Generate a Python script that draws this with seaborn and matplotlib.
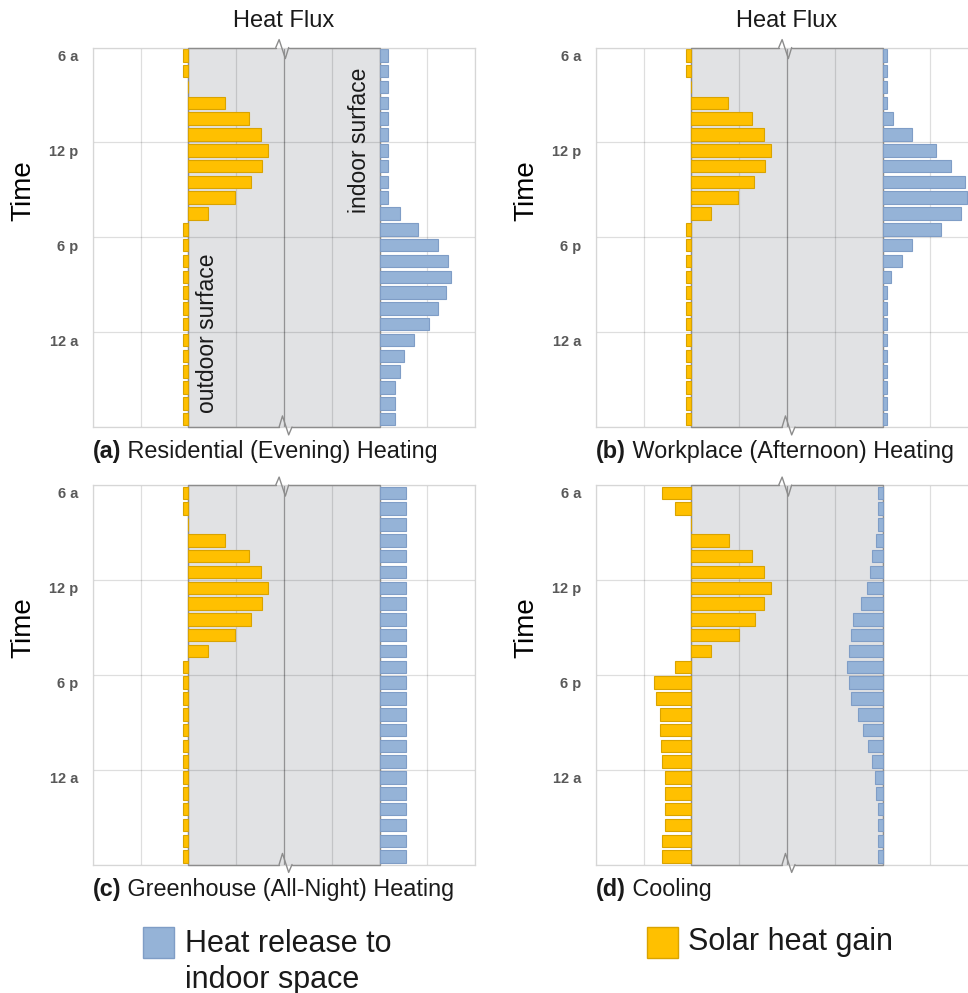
import numpy as np
import pandas as pd
import matplotlib.pyplot as plt
import seaborn as sns
from matplotlib.patches import Rectangle

# hourly slots, first slot = 6 a
hours = list(range(24))
tick_pos = [0, 6, 12, 18]
tick_labels = ["6 a", "12 p", "6 p", "12 a"]

# solar heat gain at the outdoor surface (grid columns, + = into the wall)
solar_heating = [-0.12, -0.12, 0, 0.77, 1.26, 1.52, 1.66, 1.54, 1.32, 0.98, 0.41,
                 -0.12, -0.12, -0.12, -0.12, -0.12, -0.12, -0.12, -0.12, -0.12,
                 -0.12, -0.12, -0.12, -0.12]
solar_cooling = [-0.61, -0.35, 0, 0.78, 1.26, 1.53, 1.66, 1.53, 1.33, 0.99, 0.42,
                 -0.34, -0.79, -0.73, -0.66, -0.66, -0.63, -0.61, -0.56, -0.56,
                 -0.56, -0.56, -0.61, -0.61]

# heat release to indoor space at the indoor surface
release_residential = [0.17, 0.17, 0.17, 0.17, 0.17, 0.17, 0.17, 0.17, 0.17, 0.17,
                       0.42, 0.80, 1.23, 1.44, 1.50, 1.40, 1.23, 1.03, 0.73, 0.52,
                       0.42, 0.33, 0.33, 0.33]
release_workplace = [0.10, 0.10, 0.10, 0.10, 0.21, 0.61, 1.12, 1.43, 1.73, 1.76,
                     1.64, 1.22, 0.61, 0.41, 0.17, 0.10, 0.10, 0.10, 0.10, 0.10,
                     0.10, 0.10, 0.10, 0.10]
release_greenhouse = [0.55, 0.55, 0.55, 0.55, 0.55, 0.55, 0.55, 0.55, 0.55, 0.55,
                      0.55, 0.55, 0.55, 0.55, 0.55, 0.55, 0.55, 0.55, 0.55, 0.55,
                      0.55, 0.55, 0.55, 0.55]
release_cooling = [-0.09, -0.10, -0.10, -0.14, -0.21, -0.27, -0.32, -0.46, -0.61, -0.65,
                   -0.71, -0.74, -0.71, -0.65, -0.51, -0.41, -0.30, -0.21, -0.16, -0.13,
                   -0.10, -0.10, -0.10, -0.10]

panels = [
    ("(a)", "Residential (Evening) Heating", solar_heating, release_residential),
    ("(b)", "Workplace (Afternoon) Heating", solar_heating, release_workplace),
    ("(c)", "Greenhouse (All-Night) Heating", solar_heating, release_greenhouse),
    ("(d)", "Cooling", solar_cooling, release_cooling),
]

ORANGE = "#FFC000"
ORANGE_EDGE = "#D9A300"
BLUE = "#95B3D7"
BLUE_EDGE = "#7F9DC6"
WALL = "#E1E2E4"
WALL_EDGE = "#8C8C8C"

sns.set_theme(style="white")
plt.rcParams['font.family'] = ['Liberation Sans', 'DejaVu Sans']

W, H = 968, 993
fig = plt.figure(figsize=(W / 100, H / 100), dpi=100)

# axes boxes in pixels: left, top
boxes = [(92.7, 47.5), (595.7, 47.5), (92.7, 485), (595.7, 485)]
ax_w, ax_h = 382.4, 379.5

for (tag, caption, solar, release), (px, py) in zip(panels, boxes):
    ax = fig.add_axes([px / W, 1 - (py + ax_h) / H, ax_w / W, ax_h / H])

    # wall (between outdoor surface x=0 and indoor surface x=4)
    ax.axvspan(0, 4, color=WALL, zorder=0.3, lw=0)

    df_s = pd.DataFrame({"hour": hours, "flux": solar})
    df_r = pd.DataFrame({"hour": hours, "flux": release})
    sns.barplot(data=df_s, x="flux", y="hour", orient="y", color=ORANGE,
                edgecolor=ORANGE_EDGE, linewidth=0.8, width=0.79,
                errorbar=None, saturation=1, ax=ax, zorder=2)
    sns.barplot(data=df_r, x="flux", y="hour", orient="y", color=BLUE,
                edgecolor=BLUE_EDGE, linewidth=0.8, width=0.79,
                errorbar=None, saturation=1, ax=ax, zorder=2, left=4)

    ax.set_xlim(-2, 6)
    ax.set_ylim(23.5, -0.5)
    ax.set_xticks(range(-2, 7))
    ax.set_xticklabels([])
    ax.set_yticks(tick_pos)
    ax.set_yticklabels(tick_labels, fontsize=10.5, fontweight="bold", color="#595959")
    ax.set_yticks([-0.5, 5.5, 11.5, 17.5, 23.5], minor=True)
    ax.tick_params(axis="both", which="both", length=0)
    ax.tick_params(axis="y", pad=10.5)
    ax.set_axisbelow(True)
    ax.grid(False)
    ax.xaxis.grid(True, which="major", color="black", alpha=0.13, lw=0.9)
    ax.yaxis.grid(True, which="minor", color="black", alpha=0.13, lw=0.9)
    ax.set_xlabel("")
    ax.set_ylabel("")
    for sp in ax.spines.values():
        sp.set_color("#D6D6D6")
        sp.set_linewidth(0.9)

    # wall outline with the break marks
    ax.plot([0, 0], [-0.5, 23.5], color=WALL_EDGE, lw=1.0, zorder=1.5)
    ax.plot([4, 4], [-0.5, 23.5], color=WALL_EDGE, lw=1.0, zorder=1.5)
    ax.plot([2, 2], [-0.5, 23.5], color="black", alpha=0.25, lw=0.9, zorder=0.6)
    ax.plot([0, 1.83], [-0.5, -0.5], color=WALL_EDGE, lw=1.0, clip_on=False, zorder=3)
    ax.plot([2.1, 4], [-0.5, -0.5], color=WALL_EDGE, lw=1.0, clip_on=False, zorder=3)
    ax.plot([1.83, 1.9, 2.03, 2.1], [-0.5, -1.0, 0.2, -0.5], color=WALL_EDGE,
            lw=1.0, clip_on=False, zorder=3)
    ax.plot([0, 1.9], [23.5, 23.5], color=WALL_EDGE, lw=1.0, clip_on=False, zorder=3)
    ax.plot([2.17, 4], [23.5, 23.5], color=WALL_EDGE, lw=1.0, clip_on=False, zorder=3)
    ax.plot([1.9, 1.97, 2.1, 2.17], [23.5, 22.8, 24.0, 23.5], color=WALL_EDGE,
            lw=1.0, clip_on=False, zorder=3)

    # caption with bold tag
    t = ax.text(0, -0.035, tag, transform=ax.transAxes, fontsize=16.8,
                fontweight="bold", ha="left", va="top", color="#1a1a1a")
    ax.annotate(" " + caption, xy=(1, 0), xycoords=t, ha="left", va="bottom",
                fontsize=16.8, color="#1a1a1a")

    fig.text((px - 69) / W, 1 - (py + 143) / H, "Time", rotation=90,
             fontsize=20, ha="center", va="center", color="black")

    if py < 100:
        ax.text(0.5, 1.07, "Heat Flux", transform=ax.transAxes, ha="center",
                va="center", fontsize=17, color="#1a1a1a")

# surface labels in panel (a)
ax_a = fig.axes[0]
ax_a.text(0.4, 22.6, "outdoor surface", rotation=90, ha="center", va="bottom",
          fontsize=16.5, color="#1a1a1a", zorder=4)
ax_a.text(3.58, 0.75, "indoor surface", rotation=90, ha="center", va="top",
          fontsize=16.5, color="#1a1a1a", zorder=4)

# legend
fig.add_artist(Rectangle((143 / W, 1 - 958 / H), 31 / W, 31 / H, transform=fig.transFigure,
                         facecolor=BLUE, edgecolor=BLUE_EDGE, lw=1))
fig.text(185 / W, 1 - 962 / H, "Heat release to\nindoor space", fontsize=22,
         ha="left", va="center", linespacing=1.22, color="#1a1a1a")
fig.add_artist(Rectangle((647 / W, 1 - 958 / H), 31 / W, 31 / H, transform=fig.transFigure,
                         facecolor=ORANGE, edgecolor=ORANGE_EDGE, lw=1))
fig.text(688 / W, 1 - 942 / H, "Solar heat gain", fontsize=22,
         ha="left", va="center", color="#1a1a1a")

plt.savefig("out.png", dpi=100)
plt.close()
